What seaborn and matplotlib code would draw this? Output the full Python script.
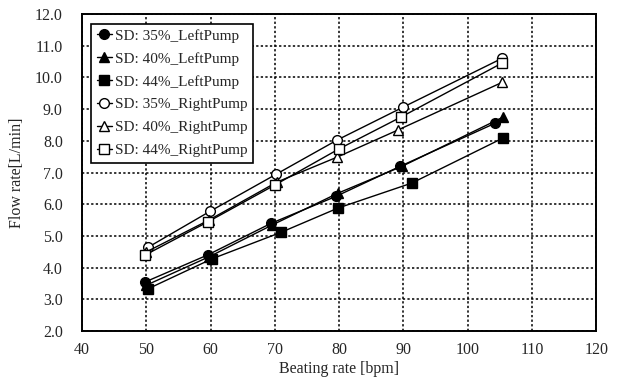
import pandas as pd
import matplotlib.pyplot as plt
import seaborn as sns

# values
labels = ['SD: 35%_LeftPump', 'SD: 40%_LeftPump', 'SD: 44%_LeftPump',
          'SD: 35%_RightPump', 'SD: 40%_RightPump', 'SD: 44%_RightPump']

x_35_left = [49.8, 59.5, 69.4, 79.5, 89.5, 104.3]
y_35_left = [3.55, 4.40, 5.40, 6.25, 7.20, 8.56]
x_40_left = [50.0, 59.8, 69.6, 79.8, 89.8, 105.5]
y_40_left = [3.45, 4.35, 5.35, 6.35, 7.20, 8.75]
x_44_left = [50.2, 60.2, 71.0, 79.8, 91.3, 105.5]
y_44_left = [3.33, 4.28, 5.12, 5.88, 6.67, 8.09]
x_35_right = [50.3, 59.9, 70.2, 79.7, 90.0, 105.3]
y_35_right = [4.65, 5.78, 6.95, 8.03, 9.07, 10.60]
x_40_right = [50.0, 59.7, 70.3, 79.7, 89.1, 105.4]
y_40_right = [4.50, 5.50, 6.70, 7.49, 8.34, 9.85]
x_44_right = [49.8, 59.5, 70.0, 79.9, 89.6, 105.3]
y_44_right = [4.40, 5.44, 6.61, 7.74, 8.75, 10.45]

xs = [x_35_left, x_40_left, x_44_left, x_35_right, x_40_right, x_44_right]
ys = [y_35_left, y_40_left, y_44_left, y_35_right, y_40_right, y_44_right]

x_ticks = [40, 50, 60, 70, 80, 90, 100, 110, 120]
y_ticks = [2.0, 3.0, 4.0, 5.0, 6.0, 7.0, 8.0, 9.0, 10.0, 11.0, 12.0]


def build_frame():
    rows = []
    for lab, xx, yy in zip(labels, xs, ys):
        for a, b in zip(xx, yy):
            rows.append({'Series': lab, 'Beating': a, 'Flow': b})
    return pd.DataFrame(rows)


def plot_chart(df, output_file_path):
    sns.set_style('white')
    plt.rcParams['font.family'] = ['Liberation Serif', 'DejaVu Serif']
    fig = plt.figure(figsize=(6.23, 3.81), dpi=100)
    ax = fig.add_axes([0.132, 0.131, 0.825, 0.832])

    marker_map = ['o', '^', 's', 'o', '^', 's']
    face_map = ['black', 'black', 'black', 'white', 'white', 'white']
    for lab, mk, fc in zip(labels, marker_map, face_map):
        sub = df[df['Series'] == lab]
        sns.lineplot(data=sub, x='Beating', y='Flow', ax=ax, color='black',
                     linewidth=1.0, marker=mk, markersize=7,
                     markerfacecolor=fc, markeredgecolor='black',
                     markeredgewidth=1.0, label=lab)

    ax.set_xlim(40, 120)
    ax.set_ylim(2.0, 12.0)
    ax.set_xticks(x_ticks)
    ax.set_yticks(y_ticks)
    ax.set_yticklabels([f'{v:.1f}' for v in y_ticks], fontsize=11.5)
    ax.set_xticklabels([str(v) for v in x_ticks], fontsize=11.5)
    ax.tick_params(axis='x', length=0, pad=8)
    ax.tick_params(axis='y', length=0, pad=14)
    ax.grid(True, color='black', linestyle=(0, (1.5, 1.5)), linewidth=1.1)
    for sp in ax.spines.values():
        sp.set_color('black')
        sp.set_linewidth(1.4)

    ax.set_xlabel('Beating rate [bpm]', fontsize=11.5)
    ax.xaxis.set_label_coords(0.5, -0.095)
    ax.set_ylabel('Flow rate[L/min]', fontsize=11.5)
    ax.yaxis.set_label_coords(-0.112, 0.5)

    ax.legend(loc='upper left', bbox_to_anchor=(0.018, 0.97), fontsize=11,
              frameon=True, fancybox=False, edgecolor='black', framealpha=1,
              handlelength=1.0, handletextpad=0.2, borderpad=0.35,
              labelspacing=0.6, borderaxespad=0)
    ax.get_legend().get_frame().set_linewidth(1.2)

    plt.savefig(output_file_path, dpi=100)
    plt.close()


if __name__ == "__main__":
    df = build_frame()
    plot_chart(df, 'out.png')
